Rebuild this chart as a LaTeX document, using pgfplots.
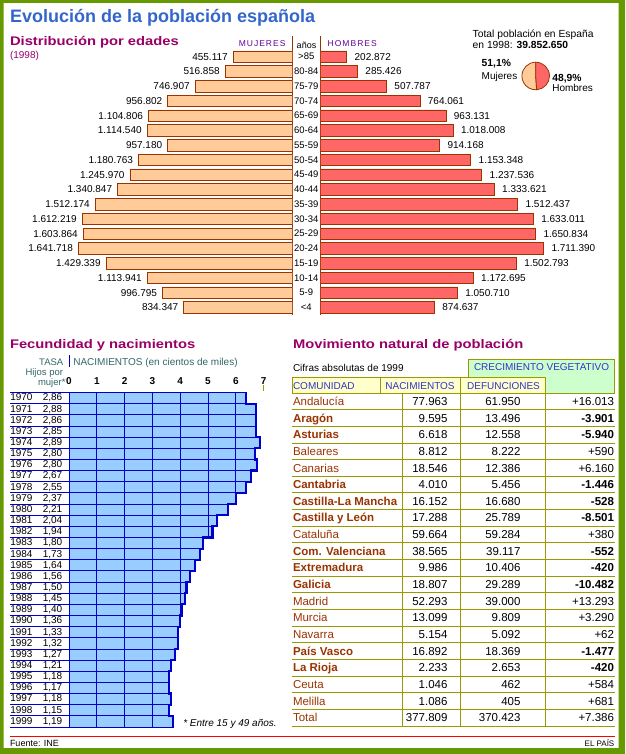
\documentclass[border=0pt]{standalone}
\usepackage{fontspec}
\setmainfont{Liberation Sans}
\newfontfamily\wide[FakeStretch=1.18]{Liberation Sans}
\newfontfamily\spaced[LetterSpace=12]{Liberation Sans}
\usepackage{pgfplots}
\pgfplotsset{compat=1.18}
\usepackage{pgfplotstable}

\definecolor{frame}{HTML}{669900}
\definecolor{tblue}{HTML}{3366CC}
\definecolor{purp}{HTML}{990066}
\definecolor{hpurp}{HTML}{660099}
\definecolor{peach}{HTML}{FFCC99}
\definecolor{redb}{HTML}{FF6666}
\definecolor{brown}{HTML}{993300}
\definecolor{lblue}{HTML}{99CCFF}
\definecolor{dblue}{HTML}{0000CC}
\definecolor{teal}{HTML}{336666}
\definecolor{olive}{HTML}{999900}
\definecolor{lyel}{HTML}{FFFFCC}
\definecolor{lgreen}{HTML}{CCFFCC}
\definecolor{hblue}{HTML}{3333CC}

\newcommand\fs[1]{\fontsize{#1}{#1}\selectfont}
\newcommand\yl[2]{\makebox[52pt][l]{#1\hfill#2}}

% poblacion por edades, 1998 (fila 0 = >85)
\pgfplotstableread{
i w wl m ml
0 455117 455.117 202872 202.872
1 516858 516.858 285426 285.426
2 746907 746.907 507787 507.787
3 956802 956.802 764061 764.061
4 1104806 1.104.806 963131 963.131
5 1114540 1.114.540 1018008 1.018.008
6 957180 957.180 914168 914.168
7 1180763 1.180.763 1153348 1.153.348
8 1245970 1.245.970 1237536 1.237.536
9 1340847 1.340.847 1333621 1.333.621
10 1512174 1.512.174 1512437 1.512.437
11 1612219 1.612.219 1633011 1.633.011
12 1603864 1.603.864 1650834 1.650.834
13 1641718 1.641.718 1711390 1.711.390
14 1429339 1.429.339 1502793 1.502.793
15 1113941 1.113.941 1172695 1.172.695
16 996795 996.795 1050710 1.050.710
17 834347 834.347 874637 874.637
}\pyr

% nacimientos en cientos de miles, 1970-1999
\pgfplotstableread{
i n
0 6.37
1 6.73
2 6.73
3 6.73
4 6.88
5 6.69
6 6.75
7 6.54
8 6.37
9 6.01
10 5.73
11 5.32
12 5.16
13 4.81
14 4.71
15 4.53
16 4.34
17 4.23
18 4.18
19 4.06
20 3.99
21 3.91
22 3.91
23 3.80
24 3.66
25 3.60
26 3.59
27 3.66
28 3.59
29 3.74
}\fer

\begin{document}
\begin{tikzpicture}[x=1pt,y=-1pt,txt/.style={inner sep=0pt,outer sep=0pt,anchor=base west}]
\useasboundingbox (0,0) rectangle (625,754);
\fill[frame,even odd rule] (0,0) rectangle (625,754) (3.5,3) rectangle (618.5,748);

% ---- titulos
\node[txt,text=tblue,font=\fs{18}\bfseries] at (10,22.7) {Evolución de la población española};
\node[txt,text=purp,font=\wide\fs{12.5}\bfseries] at (10,45.7) {Distribución por edades};
\node[txt,text=purp,font=\fs{10}] at (10,58.3) {(1998)};
\node[txt,anchor=base east,text=hpurp,font=\spaced\fs{8.5}] at (285.5,46.7) {MUJERES};
\node[txt,text=hpurp,font=\spaced\fs{8.5}] at (327.7,46.7) {HOMBRES};
\node[txt,anchor=base,font=\fs{9}] at (306.5,48.5) {años};
\draw[brown,line width=1pt] (292.5,36) -- (292.5,315);
\draw[brown,line width=1pt] (320.3,36) -- (320.3,315);

% ---- piramide: mujeres
\begin{axis}[at={(292.5pt,-49.3pt)},anchor=north east,scale only axis,
  width=234.9pt,height=265.5pt,hide axis,
  xbar,bar width=11.5pt,x dir=reverse,y dir=reverse,
  xmin=0,xmax=1800000,ymin=-0.5,ymax=17.5,
  every node near coord/.append style={anchor=east,inner sep=0pt,xshift=-5pt,font=\fs{10}}]
\addplot[fill=peach,draw=brown,line width=0.8pt,point meta=explicit symbolic,nodes near coords]
  table[x=w,y=i,meta=wl] {\pyr};
\end{axis}

% ---- piramide: hombres
\begin{axis}[at={(320.3pt,-49.3pt)},anchor=north west,scale only axis,
  width=234.9pt,height=265.5pt,
  xbar,bar width=11.5pt,y dir=reverse,
  xmin=0,xmax=1800000,ymin=-0.5,ymax=17.5,
  axis line style={draw=none},major tick length=0pt,xtick=\empty,
  ytick={0,...,17},
  yticklabels={>85,80-84,75-79,70-74,65-69,60-64,55-59,50-54,45-49,40-44,35-39,30-34,25-29,20-24,15-19,10-14,5-9,<4},
  yticklabel style={anchor=center,inner sep=0pt,xshift=-14pt,font=\fs{9.5}},
  every node near coord/.append style={anchor=west,inner sep=0pt,xshift=7.5pt,font=\fs{10}}]
\addplot[fill=redb,draw=brown,line width=0.8pt,point meta=explicit symbolic,nodes near coords]
  table[x=m,y=i,meta=ml] {\pyr};
\end{axis}

% ---- total y tarta
\node[txt,font=\fs{10.3}] at (472.7,37.7) {Total población en España};
\node[txt,font=\fs{10.3}] at (472.7,48.3) {en 1998: \textbf{39.852.650}};
\node[txt,font=\fs{10.3}\bfseries] at (481.7,67) {51,1\%};
\node[txt,font=\fs{10}] at (481.7,79.3) {Mujeres};
\node[txt,font=\fs{10.3}\bfseries] at (552.3,81.7) {48,9\%};
\node[txt,font=\fs{10}] at (552.3,91.7) {Hombres};
\begin{axis}[at={(535.7pt,-76pt)},anchor=center,scale only axis,width=27.6pt,height=27.6pt,
  hide axis,xmin=-1,xmax=1,ymin=-1,ymax=1,clip=false]
\addplot[draw=none] coordinates {(0,0)};
\filldraw[fill=peach,draw=brown,line width=0.8pt] (axis cs:0,0) -- (axis cs:0,1)
  arc[start angle=90,delta angle={3.6*51.1},radius=13.8pt] -- cycle;
\filldraw[fill=redb,draw=brown,line width=0.8pt] (axis cs:0,0) -- (axis cs:0,1)
  arc[start angle=90,delta angle={-3.6*48.9},radius=13.8pt] -- cycle;
\end{axis}

% ---- fecundidad y nacimientos
\node[txt,text=purp,font=\wide\fs{12.5}\bfseries] at (10,348) {Fecundidad y nacimientos};
\node[txt,anchor=base east,text=teal,font=\fs{9.5}] at (63.3,365) {TASA};
\node[txt,anchor=base east,text=teal,font=\fs{9.5}] at (63,375.5) {Hijos por};
\node[txt,anchor=base east,text=teal,font=\fs{9.5}] at (65.5,385) {mujer*};
\draw[dblue,line width=0.9pt] (69,355) -- (69,367);
\node[txt,text=teal,font=\fs{10}] at (73.3,365) {NACIMIENTOS (en cientos de miles)};

\begin{axis}[at={(69pt,-392.5pt)},anchor=north west,scale only axis,
  width=194.6pt,height=334.5pt,clip=false,
  y dir=reverse,xmin=0,xmax=7,ymin=-0.5,ymax=29.5,
  axis line style={draw=none},
  xtick={0,...,7},xticklabels={0,1,2,3,4,5,6,7},
  xtick pos=right,xticklabel pos=right,ytick pos=left,
  tick align=outside,major tick length=0pt,minor tick length=59pt,
  minor ytick={-0.5,0.5,...,29.5},
  minor tick style={dblue,line width=0.9pt},
  xticklabel style={anchor=center,inner sep=0pt,yshift=11.8pt,font=\fs{10}\bfseries},
  ytick={0,...,29},
  yticklabels={\yl{1970}{2,86},\yl{1971}{2,88},\yl{1972}{2,86},\yl{1973}{2,85},\yl{1974}{2,89},
    \yl{1975}{2,80},\yl{1976}{2,80},\yl{1977}{2,67},\yl{1978}{2,55},\yl{1979}{2,37},
    \yl{1980}{2,21},\yl{1981}{2,04},\yl{1982}{1,94},\yl{1983}{1,80},\yl{1984}{1,73},
    \yl{1985}{1,64},\yl{1986}{1,56},\yl{1987}{1,50},\yl{1988}{1,45},\yl{1989}{1,40},
    \yl{1990}{1,36},\yl{1991}{1,33},\yl{1992}{1,32},\yl{1993}{1,27},\yl{1994}{1,21},
    \yl{1995}{1,18},\yl{1996}{1,17},\yl{1997}{1,18},\yl{1998}{1,15},\yl{1999}{1,19}},
  yticklabel style={anchor=east,inner sep=0pt,xshift=-6.5pt,font=\fs{10}}]
\addplot[xbar,bar shift=0pt,bar width=11.15pt,fill=lblue,draw=dblue,line width=0.9pt]
  table[x=n,y=i] {\fer};
% lineas de reticula dentro de las barras
\addplot[dblue,line width=0.9pt,mark=none] coordinates {(1,-0.5)(1,29.5)};
\addplot[dblue,line width=0.9pt,mark=none] coordinates {(2,-0.5)(2,29.5)};
\addplot[dblue,line width=0.9pt,mark=none] coordinates {(3,-0.5)(3,29.5)};
\addplot[dblue,line width=0.9pt,mark=none] coordinates {(4,-0.5)(4,19.5)};
\addplot[dblue,line width=0.9pt,mark=none] coordinates {(5,-0.5)(5,12.5)};
\addplot[dblue,line width=0.9pt,mark=none] coordinates {(6,-0.5)(6,9.5)};
\addplot[dblue,line width=2.2pt,line join=miter,mark=none] coordinates {
  (6.37,-0.5)(6.37,0.5)(6.73,0.5)(6.73,3.5)(6.88,3.5)(6.88,4.5)(6.69,4.5)(6.69,5.5)
  (6.75,5.5)(6.75,6.5)(6.54,6.5)(6.54,7.5)(6.37,7.5)(6.37,8.5)(6.01,8.5)(6.01,9.5)
  (5.73,9.5)(5.73,10.5)(5.32,10.5)(5.32,11.5)(5.16,11.5)(5.16,12.5)(4.81,12.5)(4.81,13.5)
  (4.71,13.5)(4.71,14.5)(4.53,14.5)(4.53,15.5)(4.34,15.5)(4.34,16.5)(4.23,16.5)(4.23,17.5)
  (4.18,17.5)(4.18,18.5)(4.06,18.5)(4.06,19.5)(3.99,19.5)(3.99,20.5)(3.91,20.5)(3.91,22.5)
  (3.80,22.5)(3.80,23.5)(3.66,23.5)(3.66,24.5)(3.60,24.5)(3.60,25.5)(3.59,25.5)(3.59,26.5)
  (3.66,26.5)(3.66,27.5)(3.59,27.5)(3.59,28.5)(3.74,28.5)(3.74,29.5)};
\draw[olive,line width=0.9pt] ([yshift=1.5pt]axis cs:7,-0.5) -- ([yshift=7.5pt]axis cs:7,-0.5);
\end{axis}
\node[txt,font=\fs{10}\itshape] at (183.3,726.7) {* Entre 15 y 49 años.};

% ---- movimiento natural (tabla)
\node[txt,text=purp,font=\wide\fs{12.5}\bfseries] at (293,348) {Movimiento natural de población};
\node[txt,font=\fs{10}] at (293,371.7) {Cifras absolutas de 1999};
\filldraw[fill=lgreen,draw=olive,line width=0.9pt] (468,359) rectangle (614.5,393);
\filldraw[fill=lyel,draw=olive,line width=0.9pt] (292,377) rectangle (380,393);
\filldraw[fill=lyel,draw=olive,line width=0.9pt] (380,377) rectangle (460.5,393);
\filldraw[fill=lyel,draw=olive,line width=0.9pt] (460.5,377) rectangle (545,393);
\node[txt,anchor=base,text=hblue,font=\fs{10}] at (541.5,370.7) {CRECIMIENTO VEGETATIVO};
\node[txt,text=hblue,font=\fs{10}] at (293,389) {COMUNIDAD};
\node[txt,anchor=base,text=hblue,font=\fs{10}] at (420,389) {NACIMIENTOS};
\node[txt,anchor=base,text=hblue,font=\fs{10}] at (503.5,389) {DEFUNCIONES};
\foreach \k in {1,...,20} \draw[olive,line width=0.9pt] (292,{393+\k*16.65}) -- (615,{393+\k*16.65});
\foreach \xx in {402.3,460.3,545.7} \draw[olive,line width=0.9pt] (\xx,393) -- (\xx,726);
\foreach \n/\a/\b/\c/\w [count=\i from 0] in {
  Andalucía/77.963/61.950/+16.013/0,
  Aragón/9.595/13.496/-3.901/1,
  Asturias/6.618/12.558/-5.940/1,
  Baleares/8.812/8.222/+590/0,
  Canarias/18.546/12.386/+6.160/0,
  Cantabria/4.010/5.456/-1.446/1,
  Castilla-La Mancha/16.152/16.680/-528/1,
  Castilla y León/17.288/25.789/-8.501/1,
  Cataluña/59.664/59.284/+380/0,
  Com. Valenciana/38.565/39.117/-552/1,
  Extremadura/9.986/10.406/-420/1,
  Galicia/18.807/29.289/-10.482/1,
  Madrid/52.293/39.000/+13.293/0,
  Murcia/13.099/9.809/+3.290/0,
  Navarra/5.154/5.092/+62/0,
  País Vasco/16.892/18.369/-1.477/1,
  La Rioja/2.233/2.653/-420/1,
  Ceuta/1.046/462/+584/0,
  Melilla/1.086/405/+681/0,
  Total/377.809/370.423/+7.386/0}{
  \pgfmathsetmacro\yb{393+(\i+0.5)*16.65+4.1}
  \node[txt,text=brown,font=\fs{11.5}] at (293,\yb) {\ifnum\w=1 \bfseries\fi\n};
  \node[txt,anchor=base east,font=\fs{11.5}] at (447.5,\yb) {\a};
  \node[txt,anchor=base east,font=\fs{11.5}] at (520.5,\yb) {\b};
  \node[txt,anchor=base east,font=\fs{11.5}] at (614,\yb) {\ifnum\w=1 \bfseries\fi\c};
}

% ---- pie
\draw[red,line width=1pt] (10,736) -- (615,736);
\node[txt,font=\fs{9}] at (10,746.5) {Fuente: INE};
\node[txt,anchor=base east,font=\fs{8}] at (614.3,746.5) {EL PAÍS};
\end{tikzpicture}
\end{document}
